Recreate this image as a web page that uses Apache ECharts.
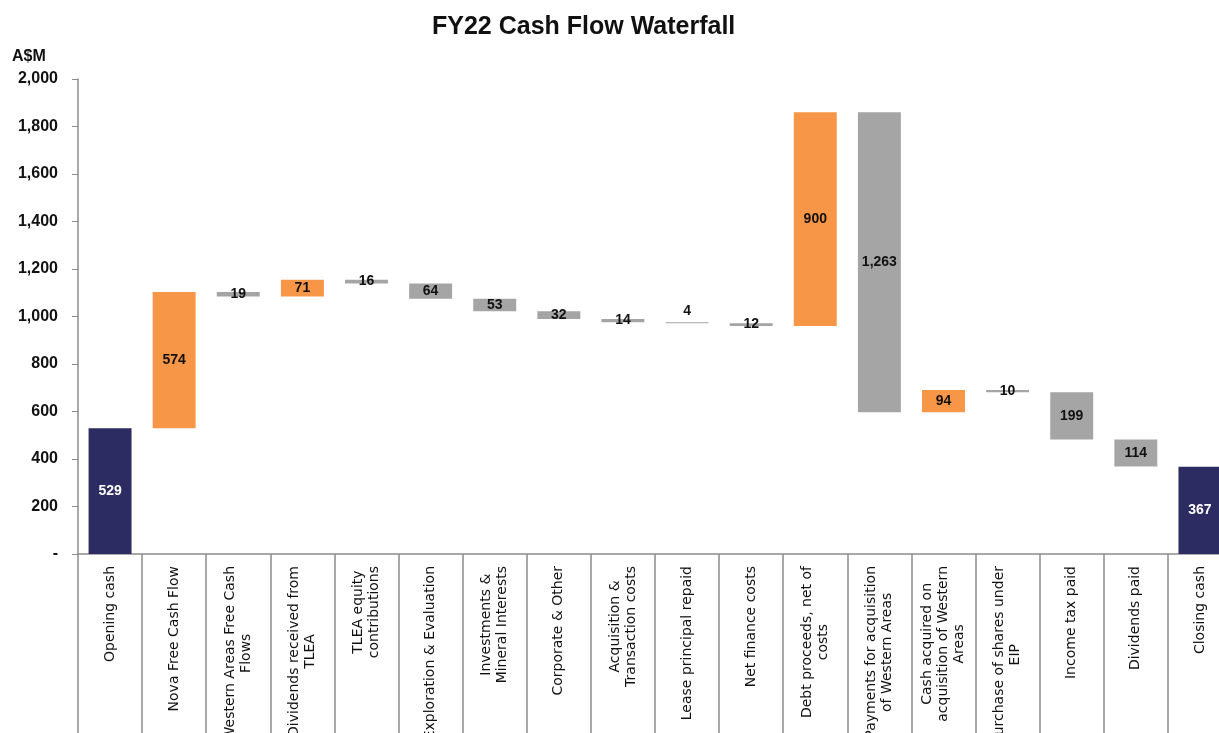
<!DOCTYPE html>
<html>
<head>
<meta charset="utf-8">
<script src="https://cdn.jsdelivr.net/npm/echarts@6/dist/echarts.min.js"></script>
<style>
  html, body { margin: 0; padding: 0; background: #fff; }
  #chart { width: 1219px; height: 733px; }
</style>
</head>
<body>
<div id="chart"></div>
<script>
// categories, line breaks as on the slide
const categories = [
    'Opening cash',
    'Nova Free Cash Flow',
    'Western Areas Free Cash\nFlows',
    'Dividends received from\nTLEA',
    'TLEA equity\ncontributions',
    'Exploration & Evaluation',
    'Investments &\nMineral Interests',
    'Corporate & Other',
    'Acquisition &\nTransaction costs',
    'Lease principal repaid',
    'Net finance costs',
    'Debt proceeds, net of\ncosts',
    'Payments for acquisition\nof Western Areas',
    'Cash acquired on\nacquisition of Western\nAreas',
    'Purchase of shares under\nEIP',
    'Income tax paid',
    'Dividends paid',
    'Closing cash'
];
// movement per step (A$M); totals are the first and last
const movements = [529, 574, -19, 71, -16, -64, -53, -32, -14, -4, -12, 900, -1263, 94, -10, -199, -114, 367];
const totalIdx = [0, 17];
const yTicks = [0, 200, 400, 600, 800, 1000, 1200, 1400, 1600, 1800, 2000];

const NAVY = '#2c2b62';
const ORANGE = '#f79646';
const GREY = '#a5a5a5';

// build the invisible base + visible pieces
const base = [], totals = [], ups = [], downs = [];
let running = 0;
movements.forEach((v, i) => {
    if (totalIdx.includes(i)) {
        base.push(0);
        totals.push(v);
        ups.push('-');
        downs.push('-');
        running = v;
    } else if (v >= 0) {
        base.push(running);
        totals.push('-');
        ups.push(v);
        downs.push('-');
        running += v;
    } else {
        running += v;
        base.push(running);
        totals.push('-');
        ups.push('-');
        downs.push(-v);
    }
});

const fmt = v => v.toLocaleString('en-US');

const labelFont = {
    fontFamily: 'Liberation Sans, Arial, sans-serif',
    fontWeight: 'bold',
    fontSize: 14,
    color: '#111',
    formatter: p => fmt(p.value)
};

const chart = echarts.init(document.getElementById('chart'));

const option = {
    animation: false,
    textStyle: { fontFamily: 'Liberation Sans, Arial, sans-serif' },
    title: {
        text: 'FY22 Cash Flow Waterfall',
        left: 427,
        top: 10,
        textStyle: { fontSize: 25, fontWeight: 'bold', color: '#111' }
    },
    graphic: [{
        type: 'text',
        left: 12,
        top: 49,
        style: { text: 'A$M', font: 'bold 16px Liberation Sans, Arial', fill: '#111' }
    }],
    grid: {
        left: 78,
        right: -13,
        top: 79,
        bottom: 179,
        outerBoundsMode: 'none',
        containLabel: false
    },
    xAxis: {
        type: 'category',
        data: categories,
        axisLine: { lineStyle: { color: '#8c8c8c', width: 1.5 } },
        axisTick: {
            show: true,
            interval: 0,
            length: 185,
            lineStyle: { color: '#8c8c8c', width: 1.5 }
        },
        axisLabel: {
            interval: 0,
            rotate: 90,
            margin: 12,
            fontSize: 14,
            color: '#111',
            formatter: function (val) {
                return val.split('\n').map(s => '{c|' + s + '}').join('\n');
            },
            rich: {
                c: {
                    align: 'center',
                    fontSize: 14,
                    lineHeight: 16,
                    fontFamily: 'DejaVu Sans, sans-serif',
                    color: '#111'
                }
            }
        }
    },
    yAxis: {
        type: 'value',
        min: 0,
        max: 2000,
        interval: 200,
        splitLine: { show: false },
        axisLine: { show: true, lineStyle: { color: '#8c8c8c', width: 1.5 } },
        axisTick: { show: true, length: 6, lineStyle: { color: '#8c8c8c' } },
        axisLabel: {
            margin: 20,
            fontSize: 16,
            fontWeight: 'bold',
            color: '#111',
            formatter: v => v === 0 ? '-' : fmt(v)
        }
    },
    series: [
        {
            name: 'base',
            type: 'bar',
            stack: 'wf',
            barWidth: '67%',
            itemStyle: { color: 'transparent' },
            emphasis: { disabled: true },
            data: base
        },
        {
            name: 'total',
            type: 'bar',
            stack: 'wf',
            itemStyle: { color: NAVY },
            label: Object.assign({ show: true, position: 'inside' }, labelFont, { color: '#fff' }),
            data: totals
        },
        {
            name: 'up',
            type: 'bar',
            stack: 'wf',
            itemStyle: { color: ORANGE },
            label: Object.assign({ show: true, position: 'inside' }, labelFont),
            data: ups
        },
        {
            name: 'down',
            type: 'bar',
            stack: 'wf',
            itemStyle: { color: GREY },
            label: Object.assign({ show: true, position: 'inside' }, labelFont),
            data: downs.map((v, i) => {
                // lease repaid label sits above its line
                if (i === 9) return { value: v, label: { position: 'top', distance: 4 } };
                return v;
            })
        }
    ]
};

chart.setOption(option);
</script>
</body>
</html>
